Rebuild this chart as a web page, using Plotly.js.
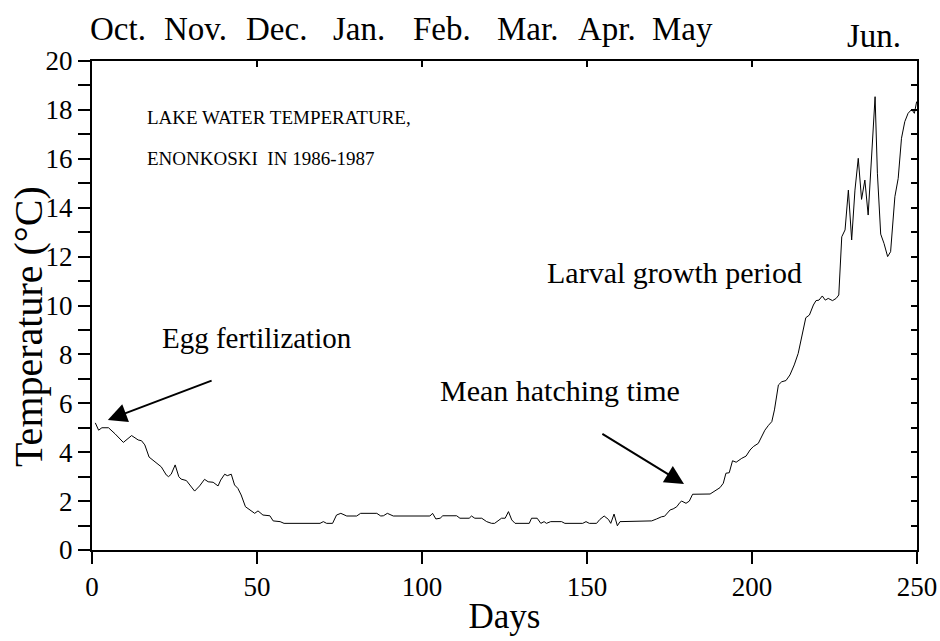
<!DOCTYPE html>
<html>
<head>
<meta charset="utf-8">
<script src="https://cdn.plot.ly/plotly-3.0.1.min.js"></script>
<style>html,body{margin:0;padding:0;background:#fff;}#chart{width:940px;height:641px;}</style>
</head>
<body>
<div id="chart"></div>
<script>
// Days since start of record (1 Oct 1986)
var days = [1, 2, 3, 5, 7, 8, 9.5, 12, 14, 15, 16, 17.3, 19, 21, 22.5, 23.2, 24, 25.2, 26.3, 27, 28.6, 31.1, 32.6, 34.1, 35.2, 36.7, 38.2, 39, 40.2, 41, 42.2, 43.2, 44.2, 45.2, 46.5, 47.8, 49.3, 50.3, 51.8, 53.9, 54.9, 57, 58.2, 69.1, 70.1, 71.1, 72.9, 74.1, 75.4, 77.2, 80.2, 81.4, 86.3, 87.5, 88.3, 89.5, 91.3, 102.4, 103.2, 104.2, 105.5, 106.3, 110.5, 111.5, 114.3, 115, 116, 118.1, 119.6, 121.1, 122, 124.1, 125.2, 126.2, 127.2, 128.2, 132.5, 133.2, 134.9, 136, 137, 137.7, 139, 142.3, 143.3, 148.7, 149.7, 150.7, 152.9, 153.9, 155.2, 156.5, 157.2, 158.2, 159.2, 160, 169.6, 171.1, 172.6, 173.5, 175.2, 176.1, 177.2, 178.2, 178.7, 180, 181, 182, 187.3, 190.3, 191.3, 192.1, 193.1, 194.1, 195.2, 196.9, 198.2, 199.4, 200.4, 201.9, 202.9, 203.9, 205, 206, 206.8, 208, 209, 210.3, 211.5, 212.8, 214, 215, 216.3, 217.4, 218.6, 219.4, 220.3, 221.3, 222.2, 223.1, 224.4, 225.5, 226.3, 227.2, 228.2, 229.2, 230.2, 231.2, 232.2, 233.2, 234.2, 235.2, 236.3, 237.3, 238, 239, 240, 241.1, 242, 243.3, 244.3, 245.3, 246.3, 247.3, 248.4, 249.2, 249.9];
var temps = [5.2, 4.9, 5.0, 5.0, 4.75, 4.6, 4.4, 4.68, 4.5, 4.47, 4.3, 3.8, 3.6, 3.4, 3.07, 3.0, 3.1, 3.48, 3.0, 2.9, 2.84, 2.41, 2.62, 2.89, 2.79, 2.77, 2.62, 2.86, 3.1, 3.04, 3.1, 2.66, 2.52, 2.25, 1.77, 1.66, 1.5, 1.6, 1.43, 1.40, 1.19, 1.16, 1.09, 1.09, 1.16, 1.09, 1.09, 1.43, 1.5, 1.39, 1.39, 1.5, 1.5, 1.39, 1.4, 1.5, 1.39, 1.39, 1.5, 1.27, 1.3, 1.4, 1.4, 1.3, 1.3, 1.39, 1.3, 1.3, 1.16, 1.09, 1.09, 1.3, 1.3, 1.57, 1.23, 1.09, 1.09, 1.3, 1.3, 1.09, 1.16, 1.09, 1.16, 1.16, 1.09, 1.09, 1.16, 1.09, 1.09, 1.25, 1.39, 1.25, 1.09, 1.47, 0.99, 1.16, 1.19, 1.27, 1.36, 1.38, 1.64, 1.68, 1.77, 1.95, 2.0, 1.91, 2.0, 2.28, 2.29, 2.55, 2.73, 3.14, 3.16, 3.65, 3.59, 3.75, 3.84, 4.09, 4.23, 4.36, 4.63, 4.9, 5.1, 5.25, 5.73, 6.75, 6.88, 6.93, 7.16, 7.57, 8.04, 8.66, 9.5, 9.61, 10.02, 10.2, 10.22, 10.39, 10.22, 10.29, 10.2, 10.29, 10.43, 12.81, 13.09, 14.72, 12.68, 14.72, 16.02, 14.34, 15.13, 13.7, 16.5, 18.54, 15.41, 12.92, 12.54, 12.0, 12.2, 14.45, 15.2, 16.84, 17.52, 17.86, 18.02, 17.86, 18.34];

var monthLabels = ["Oct.", "Nov.", "Dec.", "Jan.", "Feb.", "Mar.", "Apr.", "May", "Jun."];
var monthDays = [8, 31.5, 56, 81, 106, 132, 156, 179, 237];
var monthRow = [1.066, 1.066, 1.066, 1.066, 1.066, 1.066, 1.066, 1.066, 1.051];

var yTickVals = [0,1,2,3,4,5,6,7,8,9,10,11,12,13,14,15,16,17,18,19,20];
var yTickText = yTickVals.map(function(v){ return v % 2 === 0 ? String(v) : ""; });

var serif = "'Liberation Serif', 'Times New Roman', Times, serif";

var traces = [
  {x: days, y: temps, type: "scatter", mode: "lines", line: {color: "#000", width: 1}, hoverinfo: "skip", showlegend: false},
  {x: [], y: [], xaxis: "x2", yaxis: "y2", type: "scatter", mode: "lines", showlegend: false}
];

var annotations = [];
for (var i = 0; i < monthLabels.length; i++) {
  annotations.push({x: monthDays[i], y: monthRow[i], xref: "x", yref: "paper", text: monthLabels[i],
    showarrow: false, xanchor: "center", yanchor: "middle", font: {family: serif, size: 33, color: "#000"}});
}
annotations.push(
  {x: -0.0776, y: 0.458, xref: "paper", yref: "paper", text: "Temperature (°C)", textangle: -90, showarrow: false,
    xanchor: "center", yanchor: "middle", font: {family: serif, size: 40, color: "#000"}},
  {x: 16, y: 17.7, xref: "x", yref: "y", text: "LAKE WATER TEMPERATURE,", showarrow: false, xanchor: "left", yanchor: "middle", font: {family: serif, size: 19, color: "#000"}},
  {x: 16, y: 16.03, xref: "x", yref: "y", text: "ENONKOSKI\u00a0\u00a0IN 1986-1987", showarrow: false, xanchor: "left", yanchor: "middle", font: {family: serif, size: 19, color: "#000"}},
  {x: 20.6, y: 8.67, xref: "x", yref: "y", text: "Egg fertilization", showarrow: false, xanchor: "left", yanchor: "middle", font: {family: serif, size: 29, color: "#000"}},
  {x: 104.8, y: 6.54, xref: "x", yref: "y", text: "Mean hatching time", showarrow: false, xanchor: "left", yanchor: "middle", font: {family: serif, size: 30, color: "#000"}},
  {x: 137.3, y: 11.37, xref: "x", yref: "y", text: "Larval growth period", showarrow: false, xanchor: "left", yanchor: "middle", font: {family: serif, size: 30, color: "#000"}},
  {x: 4.8, y: 5.32, ax: 36.7, ay: 6.95, xref: "x", yref: "y", axref: "x", ayref: "y", text: "", showarrow: true,
    arrowhead: 2, arrowsize: 1.9, arrowwidth: 2, arrowcolor: "#000"},
  {x: 179.4, y: 2.7, ax: 154.2, ay: 4.79, xref: "x", yref: "y", axref: "x", ayref: "y", text: "", showarrow: true,
    arrowhead: 2, arrowsize: 1.9, arrowwidth: 2, arrowcolor: "#000"}
);

var layout = {
  width: 940, height: 641,
  margin: {l: 92, r: 23, t: 61, b: 91},
  paper_bgcolor: "#fff", plot_bgcolor: "#fff",
  showlegend: false,
  font: {family: serif, color: "#000"},
  xaxis: {
    range: [0, 250], tickvals: [0, 50, 100, 150, 200, 250], ticks: "outside", ticklen: 12, tickwidth: 2, tickcolor: "#000",
    showline: true, linecolor: "#000", linewidth: 2, showgrid: false, zeroline: false,
    tickfont: {family: serif, size: 27, color: "#000"},
    title: {text: "Days", font: {family: serif, size: 35, color: "#000"}, standoff: 2}
  },
  yaxis: {
    range: [0, 20], tickvals: yTickVals, ticktext: yTickText, ticks: "outside", ticklen: 12, tickwidth: 2, tickcolor: "#000",
    showline: true, linecolor: "#000", linewidth: 2, showgrid: false, zeroline: false,
    tickfont: {family: serif, size: 27, color: "#000"}
  },
  xaxis2: {
    overlaying: "x", side: "top", range: [0, 250], tickvals: [0, 50, 100, 150, 200, 250], ticks: "inside", ticklen: 6, tickwidth: 2, tickcolor: "#000",
    showline: true, linecolor: "#000", linewidth: 2, showgrid: false, zeroline: false, showticklabels: false
  },
  yaxis2: {
    overlaying: "y", side: "right", range: [0, 20], tickvals: yTickVals, ticks: "inside", ticklen: 6, tickwidth: 2, tickcolor: "#000",
    showline: true, linecolor: "#000", linewidth: 2, showgrid: false, zeroline: false, showticklabels: false
  },
  annotations: annotations
};

Plotly.newPlot("chart", traces, layout, {displayModeBar: false, staticPlot: true});
</script>
</body>
</html>
